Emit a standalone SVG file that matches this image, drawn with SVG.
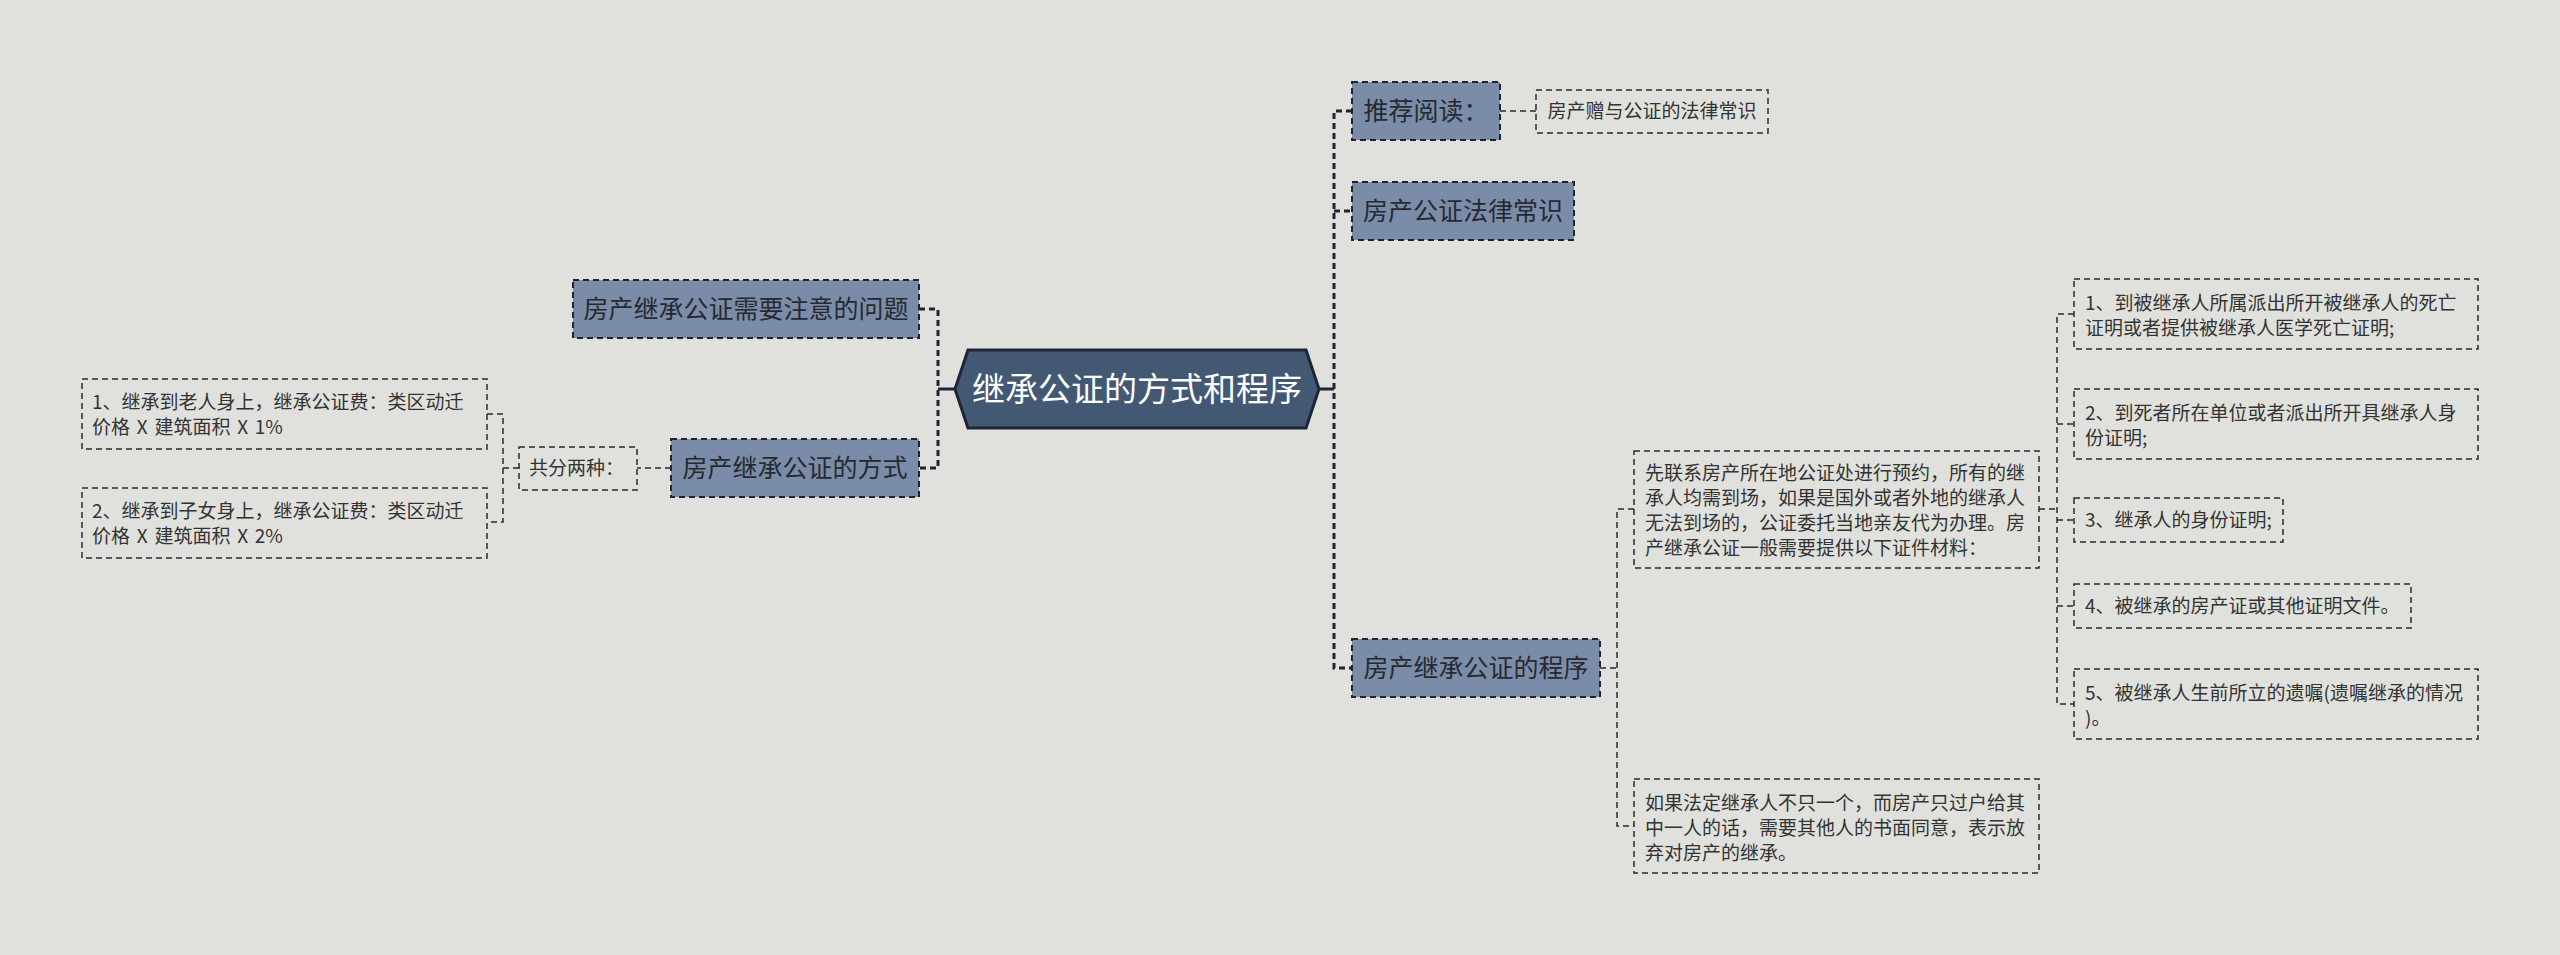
<svg xmlns="http://www.w3.org/2000/svg" width="2560" height="955" viewBox="0 0 2560 955">
<style>
  .bg { fill: #e0e1dc; }
  .root { fill: #435873; stroke: #1c2636; stroke-width: 3; }
  .roottxt { font-family: "Noto Sans CJK SC", "Noto Sans", sans-serif; font-size: 33px; fill: #ffffff; text-anchor: middle; }
  .sub { fill: #7a8ca8; stroke: #1e2530; stroke-width: 2; stroke-dasharray: 6 4; }
  .subtxt { font-family: "Noto Sans CJK SC", "Noto Sans", sans-serif; font-size: 25px; fill: #262a30; text-anchor: middle; }
  .leaf { fill: none; stroke: #2a2a2a; stroke-width: 1.5; stroke-dasharray: 6 4; }
  .leaftxt { font-family: "Noto Sans CJK SC", "Noto Sans", sans-serif; font-size: 19px; fill: #333333; }
  .ws { word-spacing: 2.5px; }
  .solid { fill: none; stroke: #1c2636; stroke-width: 3; }
  .thick { fill: none; stroke: #1c2636; stroke-width: 3; stroke-dasharray: 6 4; }
  .thin { fill: none; stroke: #2a2a2a; stroke-width: 1.5; stroke-dasharray: 6 4; }
</style>
<rect class="bg" x="0" y="0" width="2560" height="955"/>

<g id="connectors">
  <path class="solid" d="M955 389 H938"/>
  <path class="thick" d="M919 309 H938 V468 H919"/>
  <path class="solid" d="M1319 389 H1334"/>
  <path class="thick" d="M1352 111 H1334 V668 H1352"/>
  <path class="thick" d="M1334 211 H1352"/>
  <path class="thin" d="M671 468 H637"/>
  <path class="thin" d="M519 468 H503"/>
  <path class="thin" d="M487 414 H503 V522 H487"/>
  <path class="thin" d="M1500 111 H1536"/>
  <path class="thin" d="M1600 668 H1617"/>
  <path class="thin" d="M1634 509 H1617 V826 H1634"/>
  <path class="thin" d="M2039 509 H2057"/>
  <path class="thin" d="M2074 314 H2057 V704 H2074"/>
  <path class="thin" d="M2057 424 H2074"/>
  <path class="thin" d="M2057 520 H2074"/>
  <path class="thin" d="M2057 606 H2074"/>
</g>

<g id="root">
  <polygon class="root" points="955,389 968,350 1306,350 1319,389 1306,428 968,428"/>
  <text class="roottxt" x="1137" y="401">继承公证的方式和程序</text>
</g>

<g id="n-wenti">
  <rect class="sub" x="573" y="280" width="346" height="58"/>
  <text class="subtxt" x="746" y="318">房产继承公证需要注意的问题</text>
</g>

<g id="n-fangshi">
  <rect class="sub" x="671" y="439" width="248" height="58"/>
  <text class="subtxt" x="795" y="477">房产继承公证的方式</text>
</g>

<g id="n-gongfen">
  <rect class="leaf" x="519" y="447" width="118" height="43"/>
  <text class="leaftxt" x="529" y="475">共分两种：</text>
</g>

<g id="n-left1">
  <rect class="leaf" x="82" y="379" width="405" height="70"/>
  <text class="leaftxt" x="92" y="409">1、继承到老人身上，继承公证费：类区动迁</text>
  <text class="leaftxt ws" x="92" y="434">价格 X 建筑面积 X 1%</text>
</g>

<g id="n-left2">
  <rect class="leaf" x="82" y="488" width="405" height="70"/>
  <text class="leaftxt" x="92" y="518">2、继承到子女身上，继承公证费：类区动迁</text>
  <text class="leaftxt ws" x="92" y="543">价格 X 建筑面积 X 2%</text>
</g>

<g id="n-tuijian">
  <rect class="sub" x="1352" y="82" width="148" height="58"/>
  <text class="subtxt" x="1426" y="120">推荐阅读：</text>
</g>

<g id="n-zengyu">
  <rect class="leaf" x="1536" y="90" width="232" height="43"/>
  <text class="leaftxt" x="1652" y="118" text-anchor="middle">房产赠与公证的法律常识</text>
</g>

<g id="n-changshi">
  <rect class="sub" x="1352" y="182" width="222" height="58"/>
  <text class="subtxt" x="1463" y="220">房产公证法律常识</text>
</g>

<g id="n-chengxu">
  <rect class="sub" x="1352" y="639" width="248" height="58"/>
  <text class="subtxt" x="1476" y="677">房产继承公证的程序</text>
</g>

<g id="n-big1">
  <rect class="leaf" x="1634" y="451" width="405" height="117"/>
  <text class="leaftxt" x="1645" y="480">先联系房产所在地公证处进行预约，所有的继</text>
  <text class="leaftxt" x="1645" y="505">承人均需到场，如果是国外或者外地的继承人</text>
  <text class="leaftxt" x="1645" y="530">无法到场的，公证委托当地亲友代为办理。房</text>
  <text class="leaftxt" x="1645" y="555">产继承公证一般需要提供以下证件材料：</text>
</g>

<g id="n-big2">
  <rect class="leaf" x="1634" y="779" width="405" height="94"/>
  <text class="leaftxt" x="1645" y="810">如果法定继承人不只一个，而房产只过户给其</text>
  <text class="leaftxt" x="1645" y="835">中一人的话，需要其他人的书面同意，表示放</text>
  <text class="leaftxt" x="1645" y="860">弃对房产的继承。</text>
</g>

<g id="n-r1">
  <rect class="leaf" x="2074" y="279" width="404" height="70"/>
  <text class="leaftxt" x="2085" y="310">1、到被继承人所属派出所开被继承人的死亡</text>
  <text class="leaftxt" x="2085" y="335">证明或者提供被继承人医学死亡证明;</text>
</g>

<g id="n-r2">
  <rect class="leaf" x="2074" y="389" width="404" height="70"/>
  <text class="leaftxt" x="2085" y="420">2、到死者所在单位或者派出所开具继承人身</text>
  <text class="leaftxt" x="2085" y="445">份证明;</text>
</g>

<g id="n-r3">
  <rect class="leaf" x="2074" y="498" width="209" height="44"/>
  <text class="leaftxt" x="2085" y="527">3、继承人的身份证明;</text>
</g>

<g id="n-r4">
  <rect class="leaf" x="2074" y="584" width="337" height="44"/>
  <text class="leaftxt" x="2085" y="613">4、被继承的房产证或其他证明文件。</text>
</g>

<g id="n-r5">
  <rect class="leaf" x="2074" y="669" width="404" height="70"/>
  <text class="leaftxt" x="2085" y="700">5、被继承人生前所立的遗嘱(遗嘱继承的情况</text>
  <text class="leaftxt" x="2085" y="725">)。</text>
</g>
</svg>
